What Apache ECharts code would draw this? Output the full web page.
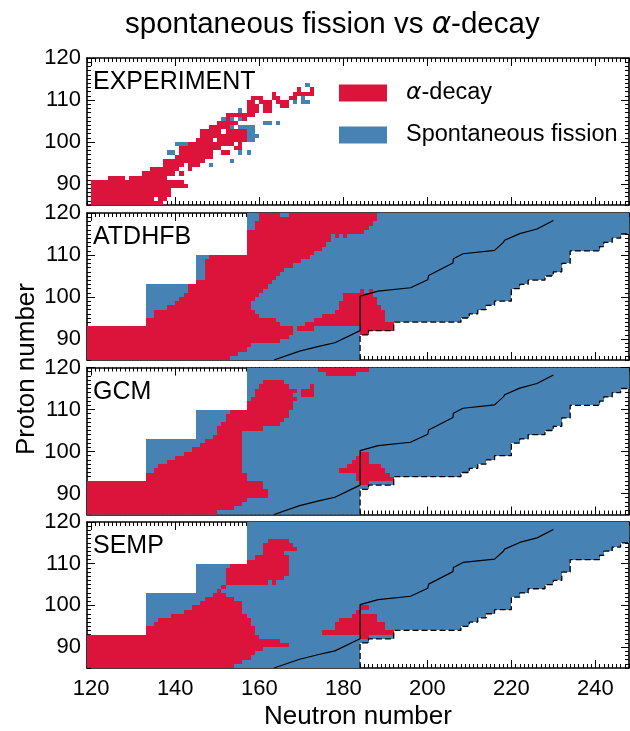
<!DOCTYPE html>
<html><head><meta charset="utf-8">
<script src="https://cdn.jsdelivr.net/npm/echarts@6/dist/echarts.min.js"></script>
<style>html,body{margin:0;padding:0;background:#fff}#c{width:630px;height:731px}</style>
</head><body><div id="c"></div>
<script>
// ---------- data ----------
const panelNames = ['EXPERIMENT', 'ATDHFB', 'GCM', 'SEMP'];
const xTicks = [120, 140, 160, 180, 200, 220, 240];
const yTicks = [90, 100, 110, 120];
const seriesNames = ['\u03b1-decay', 'Spontaneous fission'];

// model panels: first computed neutron number per proton band [Zfrom, Zto, Nstart]
const modelRowStart = [[85, 92, 119], [93, 102, 133], [103, 109, 145], [110, 119, 157]];
// model panels: last computed neutron number for Z = 85..119
const modelRowEnd = [183, 183, 183, 183, 183, 183, 185, 191, 191, 207, 209, 211, 213, 215, 219, 219, 219, 221, 223, 227,
  229, 231, 231, 233, 233, 233, 240, 241, 243, 245, 247, 247, 247, 247, 247];

// solid black line (N, Z)
const solidLineN = [163.5, 169.6, 174.4, 178.0, 184.0, 184.0, 188.3, 196.0, 200.1, 200.3, 206.1, 206.2, 208.5, 216.0, 218.1, 218.4, 222.0, 226.1, 230.0];
const solidLineZ = [85.0, 87.1, 88.3, 89.1, 92.0, 100.2, 101.4, 102.2, 104.1, 105.1, 108.1, 109.1, 110.3, 111.1, 113.0, 113.5, 115.1, 116.2, 118.2];

// runs [Z, Nfrom, Nto]
const expAlpha = [
  [85, 120, 136], [86, 120, 134], [86, 136, 137], [87, 120, 138], [88, 120, 138], [89, 120, 142], [90, 120, 141],
  [91, 124, 127], [91, 129, 137], [92, 132, 139], [92, 141, 141], [93, 134, 140], [93, 143, 143],
  [94, 137, 141], [94, 143, 145], [95, 137, 146], [96, 140, 148], [97, 141, 148], [97, 151, 152],
  [98, 141, 150], [98, 154, 155], [99, 143, 153], [99, 155, 155], [100, 145, 148], [100, 150, 156],
  [101, 146, 156], [102, 146, 150], [102, 152, 156], [103, 148, 152], [104, 150, 154], [105, 152, 152], [105, 156, 156],
  [106, 152, 158], [107, 157, 159], [107, 161, 162], [108, 157, 159], [108, 161, 162], [108, 165, 166],
  [109, 157, 158], [109, 160, 162], [109, 164, 166], [110, 158, 160], [110, 163, 164], [110, 167, 168],
  [111, 163, 163], [111, 168, 170], [111, 171, 172], [112, 169, 169], [112, 172, 172]
];
const expFission = [
  [113, 171, 171], [110, 170, 170], [109, 168, 168], [109, 170, 171], [107, 155, 155], [105, 151, 151], [105, 153, 153],
  [105, 155, 155], [104, 161, 162], [104, 164, 164], [103, 153, 153], [103, 155, 158], [102, 157, 158], [101, 157, 159],
  [99, 140, 142], [99, 143, 143], [100, 157, 158], [97, 138, 139], [96, 141, 141], [95, 137, 137], [94, 144, 144],
  [94, 148, 148], [95, 153, 153], [97, 155, 155], [97, 157, 157]
];
const atdhfbAlpha = [
  [85, 119, 152], [86, 119, 154], [87, 119, 156], [88, 119, 157], [89, 119, 164], [90, 119, 166], [91, 119, 167], [91, 184, 185],
  [92, 119, 167], [92, 169, 172], [92, 184, 191], [93, 133, 164], [93, 171, 191], [94, 133, 163], [94, 173, 189],
  [95, 135, 159], [95, 175, 189], [96, 135, 158], [96, 178, 189], [97, 138, 157], [97, 179, 188],
  [98, 140, 157], [98, 179, 187], [99, 141, 158], [99, 180, 187], [100, 142, 159], [100, 180, 186],
  [101, 143, 160], [101, 184, 184], [101, 186, 186], [102, 143, 161], [103, 145, 162], [104, 147, 163],
  [105, 147, 164], [106, 147, 165], [107, 147, 167], [108, 147, 169], [109, 148, 171], [110, 157, 172],
  [111, 157, 174], [112, 157, 175], [113, 157, 176], [114, 157, 176], [114, 178, 178], [114, 180, 180],
  [115, 157, 184], [116, 159, 185], [117, 159, 186], [118, 160, 187], [119, 160, 164], [119, 167, 187]
];
const gcmAlpha = [
  [85, 119, 149], [86, 119, 153], [87, 119, 155], [88, 119, 156], [89, 119, 161], [90, 119, 161], [91, 119, 160],
  [92, 119, 160], [92, 184, 185], [93, 133, 156], [93, 183, 191], [94, 133, 156], [94, 183, 190],
  [95, 135, 155], [95, 179, 189], [96, 136, 155], [96, 181, 188], [97, 138, 155], [97, 182, 185],
  [98, 140, 155], [98, 183, 185], [99, 142, 155], [99, 184, 185], [100, 144, 155], [101, 146, 155],
  [102, 147, 155], [103, 149, 155], [104, 150, 155], [105, 150, 160], [106, 151, 164], [107, 152, 165],
  [108, 152, 166], [109, 153, 166], [110, 157, 167], [111, 157, 167], [112, 158, 168], [113, 159, 167], [113, 170, 172],
  [114, 159, 168], [114, 170, 172], [115, 160, 166], [115, 172, 172], [116, 161, 165], [118, 176, 182], [119, 174, 185]
];
const sempAlpha = [
  [85, 119, 153], [86, 119, 155], [87, 119, 157], [88, 119, 158], [89, 119, 160], [90, 119, 166], [91, 119, 164],
  [92, 119, 159], [92, 184, 185], [93, 133, 158], [93, 175, 191], [94, 133, 158], [94, 178, 189],
  [95, 135, 157], [95, 178, 189], [96, 136, 157], [96, 179, 187], [97, 139, 156], [97, 182, 187],
  [98, 142, 155], [98, 183, 183], [99, 144, 155], [99, 184, 185], [100, 146, 155], [101, 147, 153],
  [102, 149, 151], [103, 150, 150], [104, 151, 151], [105, 152, 161], [105, 163, 163], [106, 152, 165],
  [107, 152, 166], [108, 152, 166], [109, 153, 166], [110, 157, 166], [111, 159, 166], [112, 161, 165],
  [113, 161, 168], [114, 161, 167], [115, 162, 166]
];

// ---------- build ----------
const RED = '#DC143C', BLUE = '#4682B4';
const FONT = 'Liberation Sans';
const X_MIN = 119, X_MAX = 248, Y_MIN = 85, Y_MAX = 120;
const gridTops = [58, 213, 367.5, 522];
const GRID_H = 147, GRID_L = 87, GRID_W = 542;

function modelRows() {
  const rows = [];
  for (const [z0, z1, n0] of modelRowStart) {
    for (let z = z0; z <= z1; z++) rows.push([z, n0, modelRowEnd[z - Y_MIN]]);
  }
  return rows;
}
function staircase() {
  let prev = modelRowEnd[0] + 1;
  const pts = [[prev, Y_MIN]];
  for (let z = Y_MIN + 1; z < Y_MAX; z++) {
    const x = modelRowEnd[z - Y_MIN] + 1;
    if (x !== prev) { pts.push([prev, z]); pts.push([x, z]); prev = x; }
  }
  return pts;
}
function toData(runs) { return runs.map(r => [r[1], r[2], r[0]]); }

function renderCell(params, api) {
  const n0 = api.value(0), n1 = api.value(1), z = api.value(2);
  const a = api.coord([n0, z + 1]);
  const b = api.coord([n1 + 1, z]);
  const x0 = Math.round(a[0]), x1 = Math.round(b[0]);
  const y0 = Math.round(a[1]), y1 = Math.round(b[1]);
  return {
    type: 'rect',
    shape: { x: x0, y: y0, width: x1 - x0, height: y1 - y0 },
    style: { fill: api.visual('color') }
  };
}

const grids = [], xAxes = [], yAxes = [], series = [], graphics = [];
const tickLine = { color: '#000', width: 1 };
for (let i = 0; i < 4; i++) {
  grids.push({ left: GRID_L, top: gridTops[i], width: GRID_W, height: GRID_H });
  const last = i === 3;
  const xb = xAxes.length;
  xAxes.push({
    gridIndex: i, type: 'value', min: X_MIN, max: X_MAX, position: 'bottom',
    axisLine: { show: true, onZero: false, lineStyle: { color: '#000', width: 1.6 } },
    axisTick: { show: true, inside: true, length: 8, lineStyle: tickLine, customValues: xTicks },
    axisLabel: { show: last, customValues: xTicks, fontSize: 22, color: '#000', margin: 10, fontFamily: FONT },
    splitLine: { show: false },
    name: last ? 'Neutron number' : '', nameLocation: 'middle', nameGap: 36,
    nameTextStyle: { fontSize: 26, color: '#000', fontFamily: FONT }
  });
  xAxes.push({
    gridIndex: i, type: 'value', min: X_MIN, max: X_MAX, interval: 1, position: 'bottom',
    axisLine: { show: false }, axisTick: { show: true, inside: true, length: 4, lineStyle: tickLine },
    axisLabel: { show: false }, splitLine: { show: false }
  });
  xAxes.push({
    gridIndex: i, type: 'value', min: X_MIN, max: X_MAX, position: 'top',
    axisLine: { show: true, onZero: false, lineStyle: { color: '#000', width: 1.6 } },
    axisTick: { show: true, inside: true, length: 8, lineStyle: tickLine, customValues: xTicks },
    axisLabel: { show: false, customValues: xTicks }, splitLine: { show: false }
  });
  xAxes.push({
    gridIndex: i, type: 'value', min: X_MIN, max: X_MAX, interval: 1, position: 'top',
    axisLine: { show: false }, axisTick: { show: true, inside: true, length: 4, lineStyle: tickLine },
    axisLabel: { show: false }, splitLine: { show: false }
  });
  const yl = yAxes.length;
  yAxes.push({
    gridIndex: i, type: 'value', min: Y_MIN, max: Y_MAX, position: 'left',
    axisLine: { show: true, onZero: false, lineStyle: { color: '#000', width: 1.6 } },
    axisTick: { show: true, inside: true, length: 8, lineStyle: tickLine, customValues: yTicks },
    axisLabel: { show: true, customValues: yTicks, fontSize: 22, color: '#000', margin: 6, fontFamily: FONT },
    splitLine: { show: false }
  });
  yAxes.push({
    gridIndex: i, type: 'value', min: Y_MIN, max: Y_MAX, interval: 1, position: 'left',
    axisLine: { show: false }, axisTick: { show: true, inside: true, length: 4, lineStyle: tickLine },
    axisLabel: { show: false }, splitLine: { show: false }
  });
  yAxes.push({
    gridIndex: i, type: 'value', min: Y_MIN, max: Y_MAX, position: 'right',
    axisLine: { show: true, onZero: false, lineStyle: { color: '#000', width: 1.6 } },
    axisTick: { show: true, inside: true, length: 8, lineStyle: tickLine, customValues: yTicks },
    axisLabel: { show: false, customValues: yTicks }, splitLine: { show: false }
  });
  yAxes.push({
    gridIndex: i, type: 'value', min: Y_MIN, max: Y_MAX, interval: 1, position: 'right',
    axisLine: { show: false }, axisTick: { show: true, inside: true, length: 4, lineStyle: tickLine },
    axisLabel: { show: false }, splitLine: { show: false }
  });

  let fission, alpha;
  if (i === 0) { fission = expFission; alpha = expAlpha; }
  else {
    fission = modelRows();
    alpha = [atdhfbAlpha, gcmAlpha, sempAlpha][i - 1];
  }
  series.push({
    name: seriesNames[1], type: 'custom', xAxisIndex: xb, yAxisIndex: yl, clip: true, silent: true,
    itemStyle: { color: BLUE }, renderItem: renderCell, encode: { x: [0, 1], y: 2 }, data: toData(fission), z: 1
  });
  series.push({
    name: seriesNames[0], type: 'custom', xAxisIndex: xb, yAxisIndex: yl, clip: true, silent: true,
    itemStyle: { color: RED }, renderItem: renderCell, encode: { x: [0, 1], y: 2 }, data: toData(alpha), z: 2
  });
  if (i > 0) {
    series.push({
      type: 'line', xAxisIndex: xb, yAxisIndex: yl, clip: true, silent: true, symbol: 'none', z: 3,
      lineStyle: { color: '#000', width: 1.2 }, data: solidLineN.map((n, k) => [n, solidLineZ[k]])
    });
    series.push({
      type: 'line', xAxisIndex: xb, yAxisIndex: yl, clip: true, silent: true, symbol: 'none', z: 3,
      lineStyle: { color: '#000', width: 1.3, type: [6, 3] }, data: staircase()
    });
  }
  graphics.push({
    type: 'text', left: 93, top: gridTops[i] + 24.5 - 12.5, z: 10,
    style: { text: panelNames[i], font: '25px "Liberation Sans"', fill: '#000' }
  });
}
graphics.push({
  type: 'text', x: 27, y: 369, rotation: Math.PI / 2, z: 10,
  style: { text: 'Proton number', font: '26px "Liberation Sans"', fill: '#000', align: 'center', verticalAlign: 'middle' }
});

const chart = echarts.init(document.getElementById('c'));
chart.setOption({
  animation: false,
  backgroundColor: '#fff',
  title: {
    text: 'spontaneous fission vs {i|\u03b1}-decay', left: 120, top: 5,
    textStyle: { fontSize: 29.5, fontWeight: 'normal', color: '#000', fontFamily: FONT,
      rich: { i: { fontSize: 29.5, fontStyle: 'italic', fontFamily: 'DejaVu Sans', color: '#000' } } }
  },
  legend: {
    data: seriesNames, orient: 'vertical', left: 339, top: 81, padding: 0, itemWidth: 48, itemHeight: 17, itemGap: 18,
    icon: 'rect', selectedMode: false,
    formatter: n => n === seriesNames[0] ? '{i|\u03b1}-decay' : n,
    textStyle: { fontSize: 23.5, color: '#000', fontFamily: FONT, lineHeight: 17, padding: [0, 0, 0, 14],
      rich: { i: { fontSize: 23.5, fontStyle: 'italic', fontFamily: 'DejaVu Sans', color: '#000' } } }
  },
  grid: grids, xAxis: xAxes, yAxis: yAxes, series: series, graphic: graphics
});
</script></body></html>
